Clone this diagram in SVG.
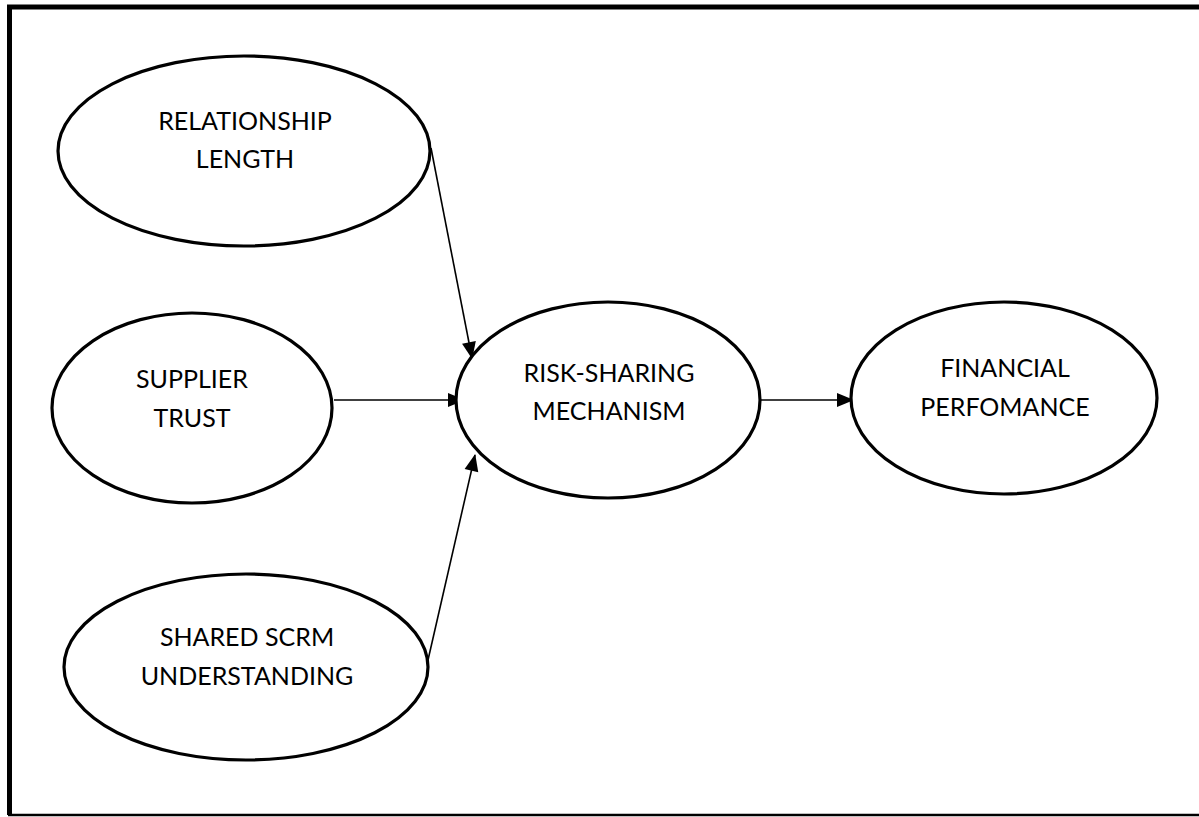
<svg xmlns="http://www.w3.org/2000/svg" width="1199" height="817" viewBox="0 0 1199 817">
  <style>
    .node ellipse { fill: #ffffff; stroke: #000000; stroke-width: 3.2; }
    .node text { font-family: Lato, "Liberation Sans", sans-serif; font-size: 25px; fill: #000000; text-anchor: middle; }
    .edge { stroke: #000000; stroke-width: 1.6; fill: none; marker-end: url(#arrow); }
    .frame { fill: none; stroke: #000000; }
  </style>
  <defs>
    <marker id="arrow" viewBox="0 0 17 14" refX="16" refY="7" markerWidth="17" markerHeight="14" markerUnits="userSpaceOnUse" orient="auto" overflow="visible">
      <path d="M0,0 L17,7 L0,14 z" fill="#000000"/>
    </marker>
  </defs>

  <!-- outer border: heavy top and left, lighter bottom -->
  <rect x="0" y="0" width="1199" height="817" fill="#ffffff"/>
  <path class="frame" stroke-width="5" d="M9.5,815 L9.5,7 L1199,7"/>
  <path class="frame" stroke-width="2.5" d="M8,815 L1199,815"/>

  <!-- connectors -->
  <g id="connectors">
    <line class="edge" x1="431" y1="148" x2="472" y2="358"/>
    <line class="edge" x1="334" y1="400" x2="464" y2="400"/>
    <line class="edge" x1="428" y1="660" x2="475" y2="455"/>
    <line class="edge" x1="761" y1="400" x2="853" y2="400"/>
  </g>

  <!-- nodes -->
  <g id="relationship-length" class="node">
    <ellipse cx="244" cy="151" rx="186" ry="95"/>
    <text x="245" y="130">RELATIONSHIP</text>
    <text x="245" y="168">LENGTH</text>
  </g>

  <g id="supplier-trust" class="node">
    <ellipse cx="192" cy="408" rx="140" ry="95"/>
    <text x="192" y="388">SUPPLIER</text>
    <text x="192" y="427">TRUST</text>
  </g>

  <g id="shared-scrm-understanding" class="node">
    <ellipse cx="246" cy="667" rx="182" ry="93"/>
    <text x="247" y="646">SHARED SCRM</text>
    <text x="247" y="685">UNDERSTANDING</text>
  </g>

  <g id="risk-sharing-mechanism" class="node">
    <ellipse cx="608" cy="400" rx="152" ry="98"/>
    <text x="609" y="382">RISK-SHARING</text>
    <text x="609" y="420">MECHANISM</text>
  </g>

  <g id="financial-performance" class="node">
    <ellipse cx="1004" cy="398" rx="153" ry="96"/>
    <text x="1005" y="377">FINANCIAL</text>
    <text x="1005" y="416">PERFOMANCE</text>
  </g>
</svg>
